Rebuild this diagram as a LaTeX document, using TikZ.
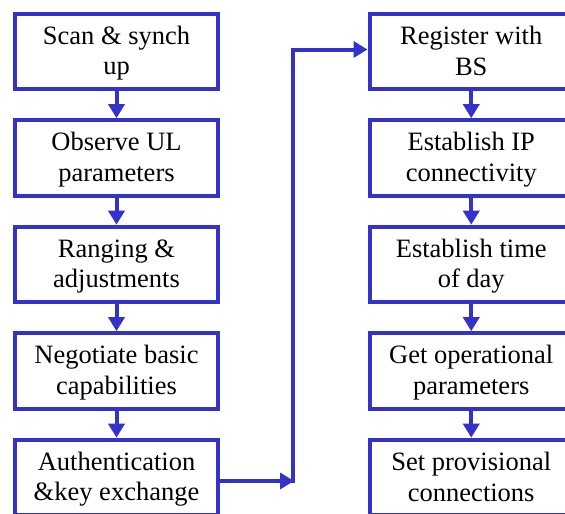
\documentclass[tikz,border=0pt]{standalone}
\usepackage{fontspec}
\setmainfont{Liberation Serif}
\usetikzlibrary{arrows.meta}
\definecolor{fblue}{RGB}{51,51,204}
\newcommand\tp{\rule{0pt}{22pt}}
\newcommand\bt{\rule[-5.5pt]{0pt}{5.5pt}}
\begin{document}
\begin{tikzpicture}[x=1pt,y=-1pt,
  stepbox/.style={draw=fblue, line width=4pt, minimum width=203.5pt, minimum height=75.6pt,
    inner sep=0pt, align=center, font=\fontsize{26.5}{30.5}\selectfont},
  flow/.style={draw=fblue, line width=4pt, -{Triangle[width=16pt,length=14pt]}}]
\useasboundingbox (0,0) rectangle (565,514);
\begin{scope}
\clip (0,0) rectangle (565,514);
\node[stepbox] (b1) at (116.5,51.5) {\tp Scan \& synch\\up\bt};
\node[stepbox] (b2) at (116.5,158) {\tp Observe UL\\parameters\bt};
\node[stepbox] (b3) at (116.5,264.5) {\tp Ranging \&\\adjustments\bt};
\node[stepbox] (b4) at (116.5,371) {\tp Negotiate basic\\capabilities\bt};
\node[stepbox] (b5) at (116.5,477.5) {\tp Authentication\\\&key exchange\bt};
\node[stepbox] (b6) at (471.25,51.5) {\tp Register with\\BS\bt};
\node[stepbox] (b7) at (471.25,158) {\tp Establish IP\\connectivity\bt};
\node[stepbox] (b8) at (471.25,264.5) {\tp Establish time\\of day\bt};
\node[stepbox] (b9) at (471.25,371) {\tp Get operational\\parameters\bt};
\node[stepbox] (b10) at (471.25,477.5) {\tp Set provisional\\connections\bt};
\draw[flow] (b1) -- (b2);
\draw[flow] (b2) -- (b3);
\draw[flow] (b3) -- (b4);
\draw[flow] (b4) -- (b5);
\draw[flow] (b6) -- (b7);
\draw[flow] (b7) -- (b8);
\draw[flow] (b8) -- (b9);
\draw[flow] (b9) -- (b10);
\coordinate (c1) at (293,481);
\draw[flow] ([yshift=-3.5pt]b5.east) -- ([xshift=1pt]c1);
\draw[flow] ([yshift=-2pt]c1) |- ([yshift=2pt]b6.west);
\end{scope}
\end{tikzpicture}
\end{document}
